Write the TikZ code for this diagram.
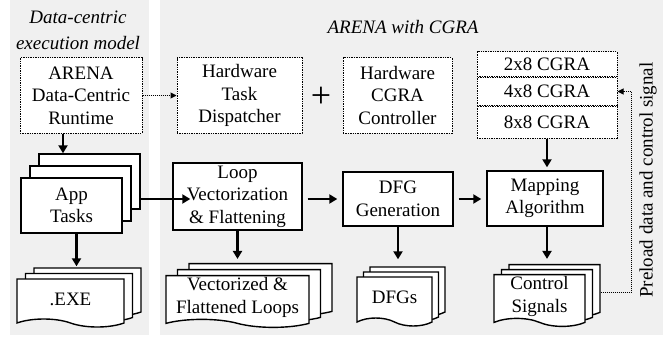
\documentclass[tikz,border=0pt]{standalone}
\usepackage{fontspec}
\setmainfont{Liberation Serif}
\usepackage{tikz}
\usetikzlibrary{arrows.meta,positioning}
\usetikzlibrary{shapes.symbols,shadows}
\definecolor{panelgray}{RGB}{240,240,240}

\begin{document}
\begin{tikzpicture}[x=1pt,y=1pt,font=\fontsize{19}{22.5}\selectfont,
  box/.style={draw,fill=white,line width=1.4pt,align=center,inner sep=2pt},
  plan/.style={box,densely dotted,line width=1pt},
  stack/.style 2 args={copy shadow={shadow xshift=2*#1,shadow yshift=2*#2,draw,fill=white,line width=1.4pt},
                       copy shadow={shadow xshift=#1,shadow yshift=#2,draw,fill=white,line width=1.4pt}},
  doc/.style={box,tape,tape bend top=none,tape bend bottom=out and in,tape bend height=8pt},
  title/.style={font=\fontsize{19}{22.5}\selectfont\itshape,align=center},
  flow/.style={-{Triangle[length=8pt,width=9pt]},line width=2.5pt},
  link/.style={-{Triangle[length=6pt,width=6pt]},densely dotted,line width=1pt}]

\fill[panelgray] (9.5,0) rectangle (149,-335);
\fill[panelgray] (160,0) rectangle (663,-335);
\useasboundingbox (0,0) rectangle (672,-337);

\node[title] (model) at (78,-30) {Data-centric\\[3.5pt]execution model};
\node[title] (arena) at (403,-27) {ARENA with CGRA};

% top row
\node[plan,minimum width=122pt,minimum height=75pt] (runtime) at (81,-95.5) {ARENA\\Data-Centric\\Runtime};
\node[plan,minimum width=125pt,minimum height=75pt] (dispatch) at (239.5,-95.5) {Hardware\\Task\\Dispatcher};
\node[plan,minimum width=109pt,minimum height=75pt] (ctrlr) at (397.5,-95.5) {Hardware\\CGRA\\Controller};
\node[font=\fontsize{36}{36}\selectfont] (plus) at (321,-97) {+};
\node[plan,minimum width=140pt,minimum height=25pt] (cg2) at (547,-64.5) {2x8 CGRA};
\node[plan,minimum width=140pt,minimum height=27pt,below=0pt of cg2] (cg4) {4x8 CGRA};
\node[plan,minimum width=140pt,minimum height=32pt,below=0pt of cg4] (cg8) {8x8 CGRA};

% middle row
\node[box,stack={9pt}{12pt},minimum width=101pt,minimum height=55pt] (apps) at (71.5,-205.5) {App\\Tasks};
\node[box,minimum width=129pt,minimum height=67pt] (loop) at (237.5,-196.5) {Loop\\Vectorization\\\& Flattening};
\node[box,minimum width=110pt,minimum height=54pt] (dfg) at (398,-199) {DFG\\Generation};
\node[box,minimum width=116pt,minimum height=55pt] (mapping) at (545,-198.5) {Mapping\\Algorithm};

% bottom row
\node[doc,stack={8.5pt}{5.5pt},minimum width=107pt,minimum height=48pt] (exe) at (70.5,-299) {.EXE};
\node[doc,stack={11.5pt}{6pt},minimum width=143pt,minimum height=51pt] (vec) at (237.5,-297.5) {Vectorized \&\\Flattened Loops};
\node[doc,stack={6.5pt}{5pt},minimum width=75pt,minimum height=49pt] (dfgs) at (394.5,-297.5) {DFGs};
\node[doc,stack={7.5pt}{5pt},minimum width=91pt,minimum height=47pt] (ctrl) at (539.5,-296.5) {Control\\Signals};

\node[rotate=90] (preload) at (648,-180) {Preload data and control signal};

\coordinate (appstop) at ([yshift=24pt]apps.north);
\coordinate (fb) at ([xshift=15pt,yshift=4pt]ctrl.east);

\draw[link] (runtime) -- (dispatch);
\draw[flow] ([xshift=-18pt]runtime.south) -- ([xshift=-18pt]runtime.south |- appstop);
\draw[flow] ([xshift=18pt,yshift=6.5pt]apps.east) -- ([xshift=18pt,yshift=6.5pt]apps.east -| loop.west);
\draw[flow,shorten >=12pt] ([xshift=5pt]apps.south) -- ([xshift=5pt]apps.south |- exe.north);
\draw[flow,shorten <=5pt,shorten >=5pt] (loop.east |- dfg.west) -- (dfg.west);
\draw[flow,shorten <=5pt,shorten >=5pt] (dfg.east) -- (dfg.east -| mapping.west);
\draw[flow,shorten >=16pt] (loop.south) -- (loop.south |- vec.north);
\draw[flow,shorten >=17pt] (dfg.south) -- (dfg.south |- dfgs.north);
\draw[flow,shorten >=15pt] ([xshift=2pt]mapping.south) -- ([xshift=2pt]mapping.south |- ctrl.north);
\draw[flow,shorten >=3pt] (cg8.south) -- (cg8.south |- mapping.north);
\draw[link] (fb) -| ([xshift=14pt]cg4.east) -- (cg4.east);
\end{tikzpicture}
\end{document}
